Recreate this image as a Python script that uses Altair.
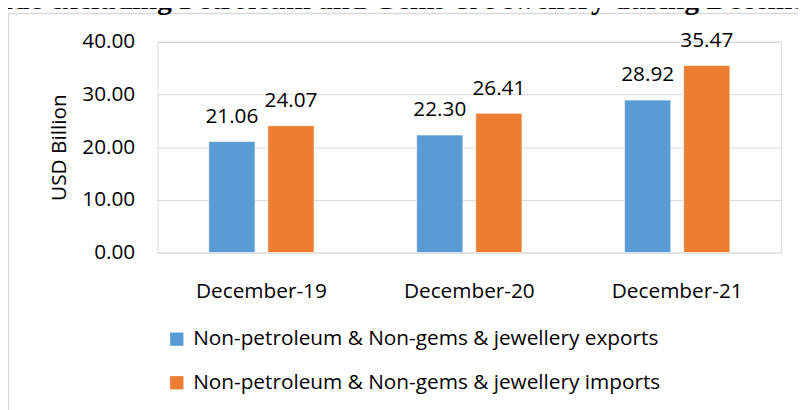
import altair as alt
import pandas as pd

months = ["December-19", "December-20", "December-21"]
exports = [21.06, 22.30, 28.92]
imports = [24.07, 26.41, 35.47]
series_names = [
    "Non-petroleum & Non-gems & jewellery exports",
    "Non-petroleum & Non-gems & jewellery imports",
]
colors = ["#5B9BD5", "#ED7D31"]
y_ticks = [0, 10, 20, 30, 40]
title_text = "Trade excluding Petroleum and Gems & Jewellery during December"

rows = []
for i, m in enumerate(months):
    rows.append({"month": m, "series": series_names[0], "value": exports[i]})
    rows.append({"month": m, "series": series_names[1], "value": imports[i]})
df = pd.DataFrame(rows)

FONT = "Open Sans"
FS = 21
W, H = 630, 213
PAD = {"left": 151, "top": 32, "right": 17, "bottom": 157}

x_enc = alt.X(
    "month:N",
    sort=months,
    title=None,
    scale=alt.Scale(paddingInner=0, paddingOuter=0),
    axis=alt.Axis(
        labelAngle=0, labelFontSize=FS, labelFont=FONT, labelColor="#000000",
        domain=False, ticks=False, labelPadding=28, grid=False,
    ),
)
xo_enc = alt.XOffset(
    "series:N", sort=series_names,
    scale=alt.Scale(paddingInner=0.218, paddingOuter=0.868),
)
y_enc = alt.Y(
    "value:Q",
    scale=alt.Scale(domain=[0, 40], nice=False, zero=True),
    title="USD Billion",
    axis=alt.Axis(
        values=y_ticks, format=".2f", labelFontSize=FS, labelFont=FONT,
        labelColor="#000000", domain=False, ticks=False, labelPadding=23,
        grid=True, gridColor="#D9D9D9", gridWidth=1,
        titleFont=FONT, titleFontSize=FS, titleFontWeight="normal",
        titleColor="#000000", titlePadding=12,
    ),
)
color_enc = alt.Color(
    "series:N",
    sort=series_names,
    scale=alt.Scale(domain=series_names, range=colors),
    legend=alt.Legend(
        title=None, orient="none", legendX=9, legendY=290, direction="vertical",
        symbolType="square", symbolSize=180, symbolStrokeWidth=0,
        labelFont=FONT, labelFontSize=FS, labelColor="#000000", labelLimit=1000,
        labelOffset=6, rowPadding=22, padding=0,
    ),
)

base = alt.Chart(df)
bars = base.mark_bar(stroke="#FFFFFF", strokeWidth=0.6).encode(
    x=x_enc, xOffset=xo_enc, y=y_enc, color=color_enc
)
labels = base.mark_text(
    dy=-19, baseline="alphabetic", align="center", font=FONT, fontSize=FS, color="#000000"
).encode(
    x=x_enc, xOffset=xo_enc, y=y_enc, text=alt.Text("value:Q", format=".2f")
)

one = alt.Chart(pd.DataFrame({"k": [0]}))
border = one.mark_rect(filled=False, stroke="#D9D9D9", strokeWidth=1.5).encode(
    x=alt.value(-150.5), x2=alt.value(720), y=alt.value(-28.5), y2=alt.value(500)
)
title = one.mark_text(
    align="left", baseline="alphabetic", font="Liberation Serif", fontWeight="bold",
    fontSize=30, color="#000000", text=title_text,
).encode(x=alt.value(-192.3), y=alt.value(-33))

chart = (
    alt.layer(border, bars, labels, title)
    .properties(
        width=W, height=H,
        autosize=alt.AutoSizeParams(type="none"),
        padding=PAD,
    )
    .configure_view(stroke=None)
    .configure(background="#FFFFFF")
)

chart.save("out.html", embed_options={"renderer": "svg", "actions": False})
